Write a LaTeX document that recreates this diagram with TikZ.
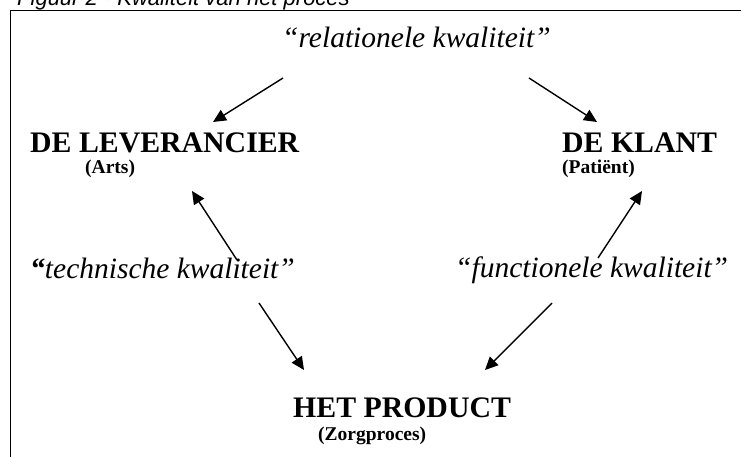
\documentclass[tikz,border=0pt]{standalone}
\usepackage{fontspec}
\setmainfont{Liberation Serif}
\newfontfamily\headfont{Liberation Sans}
\usetikzlibrary{arrows.meta, positioning}

\tikzset{
	party/.style={anchor=base west, inner sep=0pt, font=\fontsize{29.8}{33}\selectfont\bfseries},
	role/.style={anchor=base west, inner sep=0pt, font=\fontsize{19.5}{22}\selectfont\bfseries},
	quality/.style={anchor=base west, inner sep=0pt, font=\fontsize{29.5}{33}\selectfont\itshape},
	link/.style={line width=1.4pt, -{Triangle[length=13pt,width=12pt]}}
}

\begin{document}
\begin{tikzpicture}[x=1pt, y=-1pt]
	\useasboundingbox (0,0) rectangle (741,456);
	\clip (0,0) rectangle (741,456);
	\node[anchor=base west, inner sep=0pt, font=\headfont\itshape\fontsize{22}{24}\selectfont] (title) at (17,5) {Figuur 2 - Kwaliteit van het proces};
	\draw[line width=1.6pt] (10.5,10.5) rectangle (760,480);
	% de drie partijen
	\node[party] (lev) at (30,152) {DE LEVERANCIER};
		\node[role] (arts) at (85,173) {(Arts)};
	\node[party] (klant) at (562,152) {DE KLANT};
		\node[role] (patient) at (562,173) {(Patiënt)};
	\node[party] (prod) at (293,417) {HET PRODUCT};
		\node[role] (zorg) at (318,440) {(Zorgproces)};
	% kwaliteiten
	\node[quality] (rel) at (282,47) {“relationele kwaliteit”};
	\node[quality] (tech) at (30,278) {\textbf{“}technische kwaliteit”};
	\node[quality] (func) at (455,277) {“functionele kwaliteit”};
	% eindpunten van de pijlen
	\coordinate (r1) at (283,78);  \coordinate (r2) at (529,78);
	\coordinate (l1) at (213,122); \coordinate (k1) at (597,122);
	\coordinate (t1) at (237,260); \coordinate (l2) at (192,191);
	\coordinate (f1) at (598,258); \coordinate (k2) at (642,191);
	\coordinate (t2) at (259,303); \coordinate (p1) at (304,370);
	\coordinate (f2) at (552,303); \coordinate (p2) at (485,370);
	\draw[link] (r1) -- (l1);
	\draw[link] (r2) -- (k1);
	\draw[link] (t1) -- (l2);
	\draw[link] (f1) -- (k2);
	\draw[link] (t2) -- (p1);
	\draw[link] (f2) -- (p2);
\end{tikzpicture}
\end{document}
